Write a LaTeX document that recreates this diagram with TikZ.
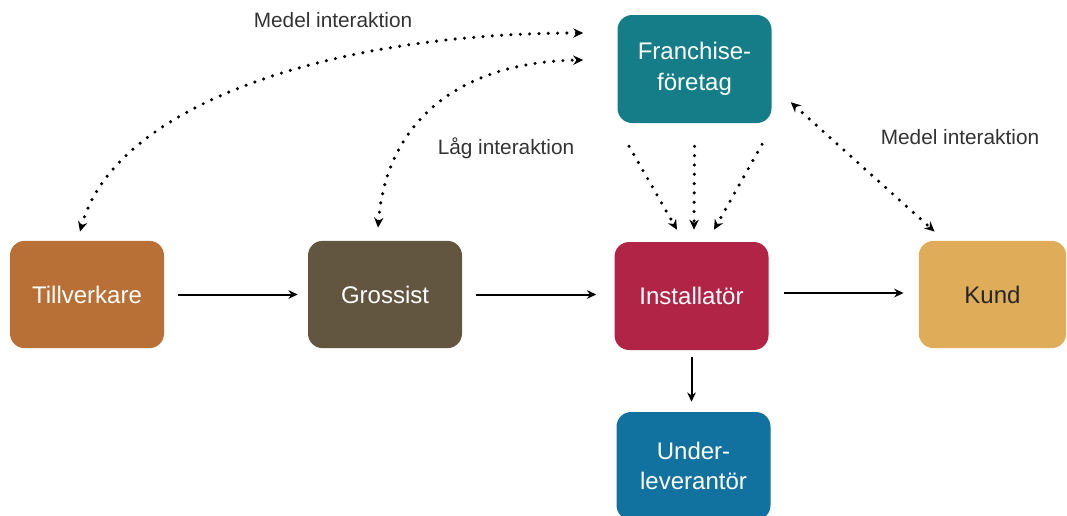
\documentclass[tikz,border=0pt]{standalone}
\usepackage{fontspec}
\setmainfont{Liberation Sans}
\usetikzlibrary{arrows.meta,calc}
\definecolor{cTill}{HTML}{B87036}
\definecolor{cGross}{HTML}{625640}
\definecolor{cInst}{HTML}{B22446}
\definecolor{cKund}{HTML}{DFAC59}
\definecolor{cFran}{HTML}{147D87}
\definecolor{cUnder}{HTML}{12729F}
\definecolor{cLabel}{HTML}{333333}
\tikzset{
  box/.style={rounded corners=11pt, minimum width=115.5pt, minimum height=80.5pt,
    inner sep=0pt, align=center, font=\fontsize{18}{23}\selectfont, text=white},
  lbl/.style={text=cLabel, font=\fontsize{15.6}{18}\selectfont, inner sep=0pt},
  flow/.style={line width=1.5pt, -{Stealth[length=7pt,width=6.5pt]}},
  dotarr/.style={line width=2.6pt, dash pattern=on 0pt off 7pt, line cap=round},
  tipend/.style={-{Stealth[length=7.5pt,width=7pt]}},
  tipboth/.style={{Stealth[length=7.5pt,width=7pt]}-{Stealth[length=7.5pt,width=7pt]}}
}
\begin{document}
\begin{tikzpicture}[x=0.75pt,y=-0.75pt]
\useasboundingbox (0,0) rectangle (1067,515);
\clip (0,0) rectangle (1067,515);
\node[box, fill=cTill] (till) at (87,294.5) {Tillverkare};
\node[box, fill=cGross] (gross) at (385,294.5) {Grossist};
\node[box, fill=cInst, minimum height=81pt] (inst) at (691.5,296) {Installatör};
\node[box, fill=cKund, text=black!85, minimum width=110.5pt] (kund) at (992.5,294.5) {Kund};
\node[box, fill=cFran, minimum height=81pt] (fran) at (694.5,69) {Franchise-\\företag};
\node[box, fill=cUnder, minimum height=81pt] (under) at (693.5,466) {Under-\\leverantör};

\node[lbl] (l1) at (333,20) {Medel interaktion};
\node[lbl] (l2) at (506,148) {Låg interaktion};
\node[lbl] (l3) at (960,137) {Medel interaktion};

% solid flow arrows
\draw[flow, shorten <=14pt*0.75, shorten >=10pt*0.75] (till.east) -- (gross.west);
\draw[flow, shorten <=14pt*0.75, shorten >=18pt*0.75] (gross.east) -- (gross.east -| inst.west);
\draw[flow, shorten <=15pt*0.75, shorten >=15pt*0.75] ([yshift=2.25pt]inst.east) -- ([yshift=2.25pt]inst.east -| kund.west);
\draw[flow, shorten <=7pt*0.75, shorten >=10pt*0.75] (inst.south) -- (inst.south |- under.north);

% dotted interaction arrows
\coordinate (tTill) at ($(till.north)+(-7,-9)$);
\coordinate (tFranA) at ($(fran.west)+(-34,-36)$);
\coordinate (tGross) at ($(gross.north)+(-7,-13)$);
\coordinate (tFranB) at ($(fran.west)+(-34,-9)$);
\draw[dotarr, tipboth] (tTill) .. controls (115,105) and (330,33) .. (tFranA);
\draw[dotarr, tipboth] (tGross) .. controls (386,125) and (455,62) .. (tFranB);

\draw[dotarr, tipend] ($(fran.south)+(-65.5,23)$) -- ($(inst.north)+(-14.5,-12)$);
\draw[dotarr, tipend] ($(fran.south)+(0,23)$) -- ($(inst.north)+(2.5,-12)$);
\draw[dotarr, tipend] ($(fran.south)+(67.5,21)$) -- ($(inst.north)+(22.5,-12)$);

\draw[dotarr, tipboth] ($(fran.south east)+(19,-21)$) -- ($(kund.north west)+(16,-9)$);
\end{tikzpicture}
\end{document}
